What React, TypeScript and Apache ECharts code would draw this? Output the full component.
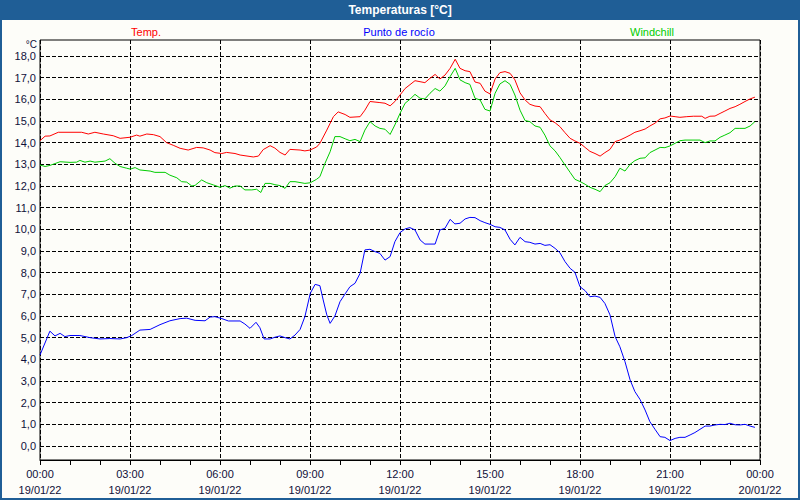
import React, { useEffect, useRef } from "react";
import * as echarts from "echarts";

const timeLabels = ["00:00", "03:00", "06:00", "09:00", "12:00", "15:00", "18:00", "21:00", "00:00"];
const dateLabels = ["19/01/22", "19/01/22", "19/01/22", "19/01/22", "19/01/22", "19/01/22", "19/01/22", "19/01/22", "20/01/22"];
const seriesNames = ["Temp.", "Punto de rocío", "Windchill"];
const seriesColors = ["#ff0000", "#0000ff", "#00cc00"];

const tempHours = [0, 0.17, 0.33, 0.61, 1.39, 1.61, 1.83, 2.11, 2.44, 2.67, 3.0, 3.22, 3.33, 3.56, 3.78, 4.0, 4.22, 4.44, 4.67, 4.94, 5.22, 5.44, 5.67, 5.83, 6.06, 6.22, 6.5, 6.67, 7.11, 7.28, 7.44, 7.67, 7.83, 8.0, 8.17, 8.33, 8.67, 8.83, 9.0, 9.22, 9.33, 9.56, 9.78, 9.94, 10.17, 10.33, 10.67, 10.83, 11.0, 11.33, 11.5, 11.67, 11.83, 12.0, 12.17, 12.5, 12.83, 13.0, 13.17, 13.33, 13.5, 13.67, 13.84, 14.0, 14.17, 14.33, 14.5, 14.67, 14.83, 15.0, 15.17, 15.33, 15.5, 15.67, 15.83, 16.0, 16.17, 16.33, 16.5, 16.67, 16.83, 17.0, 17.17, 17.33, 17.5, 17.67, 17.83, 18.0, 18.17, 18.33, 18.5, 18.67, 18.83, 19.0, 19.17, 19.33, 19.5, 19.67, 19.83, 20.0, 20.17, 20.33, 20.5, 20.67, 20.83, 21.0, 21.17, 21.33, 21.56, 21.78, 22.06, 22.17, 22.33, 22.5, 22.67, 22.83, 23.0, 23.17, 23.33, 23.5, 23.67, 23.83];
const tempValues = [14.09, 14.3, 14.31, 14.48, 14.48, 14.4, 14.48, 14.4, 14.32, 14.2, 14.25, 14.35, 14.3, 14.4, 14.37, 14.28, 14.0, 13.88, 13.74, 13.66, 13.78, 13.76, 13.66, 13.54, 13.5, 13.55, 13.5, 13.43, 13.34, 13.38, 13.68, 13.86, 13.75, 13.55, 13.43, 13.69, 13.66, 13.62, 13.66, 13.8, 13.97, 14.58, 15.2, 15.42, 15.3, 15.17, 15.2, 15.5, 15.9, 15.85, 15.82, 15.7, 15.9, 16.2, 16.5, 16.86, 16.77, 16.97, 17.15, 16.94, 17.12, 17.43, 17.85, 17.43, 17.32, 17.28, 16.8, 16.74, 16.38, 16.25, 16.94, 17.23, 17.28, 17.2, 16.9, 16.3, 15.97, 15.77, 15.69, 15.66, 15.35, 15.05, 14.92, 14.74, 14.46, 14.2, 14.08, 13.97, 13.78, 13.6, 13.5, 13.38, 13.54, 13.69, 14.05, 14.12, 14.23, 14.35, 14.48, 14.55, 14.63, 14.77, 14.9, 15.1, 15.14, 15.23, 15.2, 15.17, 15.2, 15.22, 15.22, 15.12, 15.22, 15.23, 15.35, 15.46, 15.58, 15.66, 15.77, 15.9, 16.02, 16.1];

const dewHours = [0, 0.33, 0.5, 0.67, 0.83, 1.0, 1.33, 1.67, 2.0, 2.33, 2.67, 2.89, 3.06, 3.33, 3.67, 4.0, 4.33, 4.67, 4.89, 5.17, 5.5, 5.67, 5.83, 6.06, 6.28, 6.67, 6.83, 7.0, 7.2, 7.33, 7.47, 7.67, 7.83, 8.0, 8.17, 8.33, 8.5, 8.67, 8.83, 9.01, 9.17, 9.33, 9.44, 9.56, 9.67, 9.83, 10.0, 10.17, 10.33, 10.5, 10.67, 10.83, 11.0, 11.17, 11.33, 11.5, 11.67, 11.83, 12.0, 12.17, 12.33, 12.5, 12.67, 12.83, 13.17, 13.33, 13.5, 13.67, 13.83, 14.0, 14.17, 14.33, 14.5, 14.67, 14.83, 15.0, 15.17, 15.33, 15.5, 15.67, 15.83, 16.0, 16.17, 16.33, 16.5, 16.67, 16.83, 17.0, 17.17, 17.33, 17.5, 17.67, 17.83, 18.0, 18.17, 18.33, 18.5, 18.67, 18.83, 19.0, 19.17, 19.33, 19.5, 19.67, 19.83, 20.0, 20.17, 20.33, 20.5, 20.67, 20.83, 21.0, 21.17, 21.33, 21.5, 21.67, 21.83, 22.0, 22.17, 22.33, 22.5, 22.67, 22.83, 23.0, 23.17, 23.33, 23.5, 23.67, 23.83];
const dewValues = [4.2, 5.3, 5.08, 5.2, 5.05, 5.1, 5.1, 5.0, 4.94, 4.96, 4.94, 5.0, 5.1, 5.35, 5.38, 5.6, 5.78, 5.88, 5.9, 5.8, 5.78, 5.95, 5.97, 5.88, 5.77, 5.77, 5.63, 5.43, 5.71, 5.46, 4.94, 4.94, 5.02, 5.08, 5.0, 4.94, 5.12, 5.38, 5.97, 7.05, 7.46, 7.4, 6.74, 6.05, 5.66, 6.0, 6.66, 7.02, 7.35, 7.51, 7.97, 9.05, 9.08, 8.97, 8.89, 8.58, 8.74, 9.43, 9.85, 10.02, 10.08, 9.97, 9.51, 9.32, 9.32, 9.97, 10.05, 10.46, 10.25, 10.28, 10.48, 10.55, 10.54, 10.4, 10.31, 10.23, 10.12, 10.09, 9.97, 9.54, 9.28, 9.63, 9.43, 9.4, 9.32, 9.35, 9.26, 9.29, 9.12, 8.92, 8.51, 8.2, 8.02, 7.35, 7.17, 6.89, 6.92, 6.86, 6.58, 6.05, 5.05, 4.58, 3.89, 3.05, 2.51, 2.15, 1.66, 1.12, 0.77, 0.43, 0.4, 0.25, 0.35, 0.4, 0.4, 0.51, 0.62, 0.77, 0.92, 0.92, 0.97, 1.0, 0.99, 1.05, 0.98, 0.97, 1.0, 0.92, 0.86];

const chillHours = [0, 0.17, 0.33, 0.67, 1.0, 1.22, 1.33, 1.5, 1.67, 1.83, 2.17, 2.33, 2.5, 2.67, 2.89, 3.01, 3.17, 3.33, 3.67, 3.83, 4.17, 4.33, 4.56, 4.72, 4.89, 5.06, 5.17, 5.39, 5.56, 5.78, 6.0, 6.17, 6.33, 6.5, 6.67, 6.83, 7.06, 7.22, 7.36, 7.5, 7.67, 7.83, 8.0, 8.17, 8.33, 8.5, 8.83, 9.01, 9.22, 9.33, 9.5, 9.67, 9.83, 10.0, 10.17, 10.33, 10.5, 10.67, 10.83, 11.0, 11.17, 11.33, 11.5, 11.67, 11.83, 12.0, 12.17, 12.33, 12.5, 12.67, 12.83, 13.0, 13.17, 13.33, 13.5, 13.67, 13.84, 14.0, 14.17, 14.33, 14.5, 14.67, 14.83, 15.0, 15.17, 15.33, 15.5, 15.67, 15.83, 16.0, 16.17, 16.33, 16.5, 16.67, 16.83, 17.0, 17.17, 17.33, 17.5, 17.67, 17.83, 18.01, 18.17, 18.33, 18.5, 18.67, 18.83, 19.0, 19.17, 19.33, 19.5, 19.67, 19.83, 20.0, 20.17, 20.33, 20.5, 20.67, 20.83, 21.0, 21.17, 21.33, 21.5, 22.0, 22.17, 22.33, 22.5, 22.67, 22.83, 23.0, 23.17, 23.33, 23.5, 23.67, 23.83];
const chillValues = [12.97, 12.9, 12.95, 13.12, 13.09, 13.1, 13.18, 13.1, 13.15, 13.1, 13.15, 13.26, 13.05, 12.9, 12.82, 12.78, 12.85, 12.74, 12.69, 12.63, 12.63, 12.5, 12.38, 12.2, 12.18, 12.0, 12.03, 12.28, 12.15, 12.05, 11.94, 12.02, 11.9, 12.0, 12.0, 11.82, 11.82, 11.85, 11.7, 12.12, 12.12, 12.06, 12.02, 11.89, 12.2, 12.2, 12.12, 12.15, 12.31, 12.43, 13.05, 13.58, 14.28, 14.28, 14.18, 14.09, 14.15, 14.05, 14.58, 14.97, 14.77, 14.66, 14.62, 14.38, 14.82, 15.35, 15.82, 16.0, 16.23, 16.05, 16.02, 16.28, 16.5, 16.38, 16.62, 17.05, 17.43, 16.9, 16.77, 16.69, 16.05, 15.97, 15.54, 15.46, 16.28, 16.71, 16.86, 16.69, 16.2, 15.5, 15.02, 14.97, 14.77, 14.71, 14.35, 13.85, 13.62, 13.32, 12.97, 12.63, 12.31, 12.2, 12.08, 11.94, 11.85, 11.74, 12.02, 12.15, 12.43, 12.82, 12.69, 13.0, 13.17, 13.28, 13.3, 13.54, 13.66, 13.78, 13.77, 13.85, 13.97, 14.09, 14.12, 14.12, 14.0, 14.08, 14.08, 14.25, 14.35, 14.46, 14.66, 14.66, 14.66, 14.77, 14.97];

const pairs = (hs: number[], vs: number[]) => hs.map((h, i) => [h, vs[i]]);

const FONT = "Liberation Sans";
const TEXT_COLOR = "#10103a";
const DASH = [4, 2];

export default function App() {
  const ref = useRef<HTMLDivElement>(null);
  useEffect(() => {
    if (!ref.current) return;
    const chart = echarts.init(ref.current, null, { renderer: "svg" });
    const legendX = [146, 399, 652];
    chart.setOption({
      animation: false,
      backgroundColor: "#fdfdf9",
      textStyle: { fontFamily: FONT },
      grid: [
        { left: 40, right: 40, top: 56, bottom: 54, show: false },
        { left: 40, right: 40, top: 40, bottom: 40, show: true, borderColor: "#000", borderWidth: 1, backgroundColor: "transparent" },
      ],
      xAxis: [
        { type: "value", gridIndex: 0, min: 0, max: 24, show: false },
        {
          type: "value",
          gridIndex: 1,
          min: 0,
          max: 24,
          interval: 3,
          axisLine: { show: true, lineStyle: { color: "#000", width: 1 } },
          axisTick: { show: true, length: 5, lineStyle: { color: "#000" } },
          minorTick: { show: true, splitNumber: 3, length: 5, lineStyle: { color: "#000" } },
          splitLine: { show: true, lineStyle: { color: "#000", type: DASH, width: 1 } },
          axisLabel: {
            margin: 6,
            fontFamily: FONT,
            fontSize: 11,
            lineHeight: 16,
            color: TEXT_COLOR,
            showMinLabel: true,
            showMaxLabel: true,
            formatter: (v: number) => {
              const i = Math.round(v / 3);
              return timeLabels[i] + "\n" + dateLabels[i];
            },
          },
        },
      ],
      yAxis: [
        {
          type: "value",
          gridIndex: 0,
          min: 0,
          max: 18,
          interval: 1,
          axisLine: { show: false },
          axisTick: { show: false },
          splitLine: { show: true, lineStyle: { color: "#000", type: DASH, width: 1 } },
          axisLabel: {
            margin: 4,
            fontFamily: FONT,
            fontSize: 11,
            color: TEXT_COLOR,
            formatter: (v: number) => v.toFixed(1).replace(".", ","),
          },
        },
        { type: "value", gridIndex: 1, min: 0, max: 1, show: false },
      ],
      graphic: [
        { type: "rect", shape: { x: 0, y: 0, width: 800, height: 20 }, style: { fill: "#1f5e96" }, z: 10 },
        { type: "rect", shape: { x: 1, y: 1, width: 798, height: 498 }, style: { fill: "none", stroke: "#1f5e96", lineWidth: 2 }, z: 10 },
        {
          type: "text",
          x: 400,
          y: 10,
          z: 11,
          style: { text: "Temperaturas [°C]", fill: "#ffffff", font: `bold 12px "${FONT}"`, textAlign: "center", textVerticalAlign: "middle" },
        },
        {
          type: "text",
          x: 37,
          y: 44,
          z: 11,
          style: { text: "°C", fill: TEXT_COLOR, font: `10px "${FONT}"`, textAlign: "right", textVerticalAlign: "middle" },
        },
        ...seriesNames.map((n, i) => ({
          type: "text",
          x: legendX[i],
          y: 32,
          z: 11,
          style: { text: n, fill: seriesColors[i], font: `11px "${FONT}"`, textAlign: "center", textVerticalAlign: "middle" },
        })),
      ],
      series: [
        { name: seriesNames[0], data: pairs(tempHours, tempValues) },
        { name: seriesNames[1], data: pairs(dewHours, dewValues) },
        { name: seriesNames[2], data: pairs(chillHours, chillValues) },
      ].map((s, i) => ({
        ...s,
        type: "line",
        xAxisIndex: 0,
        yAxisIndex: 0,
        showSymbol: false,
        symbol: "none",
        lineStyle: { color: seriesColors[i], width: 1 },
        itemStyle: { color: seriesColors[i] },
        z: 5,
      })),
    });
    return () => chart.dispose();
  }, []);
  return <div ref={ref} style={{ position: "fixed", left: 0, top: 0, width: 800, height: 500 }} />;
}
